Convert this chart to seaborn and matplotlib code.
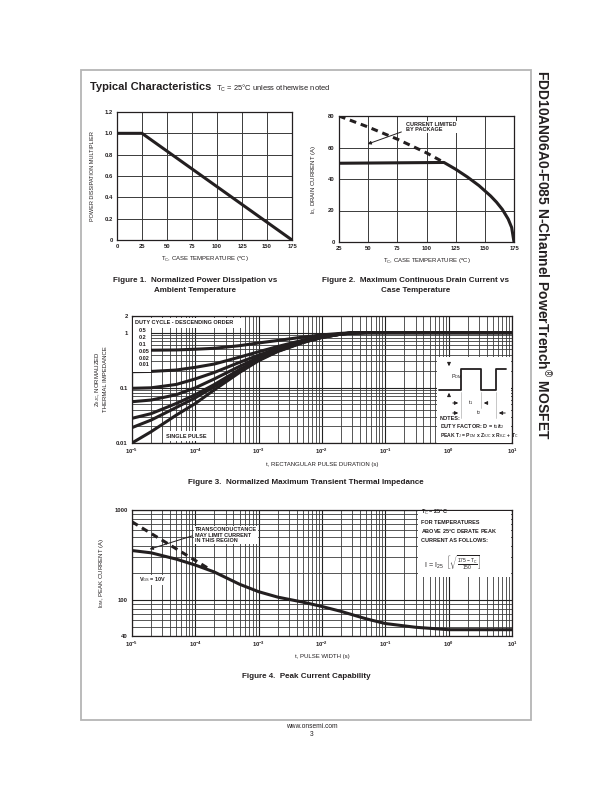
import numpy as np
import pandas as pd
import matplotlib
matplotlib.use("Agg")
import matplotlib.pyplot as plt
import seaborn as sns
from matplotlib.patches import Rectangle
from matplotlib.ticker import FixedLocator, NullFormatter, LogLocator

# figure 1 - power dissipation multiplier
pd_temp = [0, 25, 175]
pd_mult = [1.0, 1.0, 0.0]

# figure 2 - drain current vs case temperature
id_temp = [25, 115, 125, 135, 145, 155, 160, 165, 170, 173, 175]
id_curr = [50, 50.5, 46.2, 41.3, 35.8, 29.2, 25.3, 20.7, 14.6, 9.2, 0]
id_si_temp = [25, 50, 75, 100, 115]
id_si_curr = [80, 73, 65.3, 56.6, 50.5]

# figure 3 - transient thermal impedance
zth_t = [1e-5, 2e-5, 5e-5, 1e-4, 2e-4, 5e-4, 1e-3, 2e-3, 5e-3, 1e-2, 2e-2, 3e-2, 5e-2, 1e-1, 1, 10]
zth_d05 = [0.48, 0.48, 0.485, 0.50, 0.52, 0.58, 0.65, 0.72, 0.83, 0.91, 0.97, 0.99, 1.0, 1.0, 1.0, 1.0]
zth_d02 = [0.196, 0.198, 0.21, 0.235, 0.27, 0.36, 0.45, 0.56, 0.73, 0.86, 0.95, 0.99, 1.0, 1.0, 1.0, 1.0]
zth_d01 = [0.098, 0.10, 0.115, 0.145, 0.19, 0.29, 0.39, 0.52, 0.70, 0.84, 0.95, 0.99, 1.0, 1.0, 1.0, 1.0]
zth_d005 = [0.056, 0.06, 0.075, 0.10, 0.145, 0.245, 0.355, 0.49, 0.68, 0.83, 0.94, 0.985, 1.0, 1.0, 1.0, 1.0]
zth_d002 = [0.028, 0.034, 0.052, 0.075, 0.115, 0.215, 0.33, 0.47, 0.67, 0.82, 0.94, 0.985, 1.0, 1.0, 1.0, 1.0]
zth_d001 = [0.019, 0.026, 0.044, 0.066, 0.105, 0.205, 0.32, 0.46, 0.665, 0.82, 0.94, 0.985, 1.0, 1.0, 1.0, 1.0]
zth_single = [0.010, 0.016, 0.032, 0.052, 0.092, 0.19, 0.31, 0.455, 0.66, 0.82, 0.94, 0.985, 1.0, 1.0, 1.0, 1.0]
duty_labels = ["0.5", "0.2", "0.1", "0.05", "0.02", "0.01"]

# figure 4 - peak current capability
ipk_t = [1e-5, 2e-5, 5e-5, 1e-4, 2e-4, 5e-4, 1e-3, 2e-3, 5e-3, 1e-2, 2e-2, 5e-2, 1e-1, 3e-1, 1, 10]
ipk = [355, 335, 285, 245, 205, 150, 124, 108, 95, 85, 75, 62, 55, 50, 47, 47]
gm_t = [1e-5, 1.6e-4]
gm_i = [740, 225]

W, H = 612, 792
INK = "#231f20"

sns.set_style("white")
plt.rcParams["font.family"] = ["Liberation Sans", "DejaVu Sans"]
plt.rcParams["mathtext.fontset"] = "custom"
plt.rcParams["mathtext.rm"] = "Liberation Sans"
plt.rcParams["mathtext.it"] = "Liberation Sans"
plt.rcParams["mathtext.bf"] = "Liberation Sans:bold"

fig = plt.figure(figsize=(W / 100, H / 100), dpi=100)


def box(x0, y0, x1, y1):
    # pixel box (top-left origin) -> figure fraction rect
    return [x0 / W, 1 - y1 / H, (x1 - x0) / W, (y1 - y0) / H]


def style_axes(ax):
    for s in ax.spines.values():
        s.set_color(INK)
        s.set_linewidth(0.9)
    ax.tick_params(which="both", length=0, pad=3, labelsize=4.2, colors=INK)
    for lab in ax.get_xticklabels() + ax.get_yticklabels():
        lab.set_fontweight("bold")


# ---- figure 1
ax1 = fig.add_axes(box(117, 112, 292, 240))
sns.lineplot(x=pd_temp, y=pd_mult, ax=ax1, color=INK, lw=2.2, sort=False)
ax1.set_xlim(0, 175)
ax1.set_ylim(0, 1.2)
ax1.set_xticks(np.arange(0, 176, 25))
ax1.set_yticks(np.arange(0, 1.21, 0.2))
ax1.set_yticklabels(["0", "0.2", "0.4", "0.6", "0.8", "1.0", "1.2"])
ax1.grid(True, color="#3a3a3a", lw=0.7)
ax1.set_xlabel(r"T$_C$, CASE TEMPERATURE ($^o$C)", fontsize=4.3, labelpad=4, color=INK)
ax1.set_ylabel("POWER DISSIPATION MULTIPLIER", fontsize=4.0, labelpad=7, color=INK)
style_axes(ax1)

# ---- figure 2
ax2 = fig.add_axes(box(339, 116, 514, 242))
sns.lineplot(x=id_si_temp, y=id_si_curr, ax=ax2, color=INK, lw=2.2, linestyle=(0, (2.2, 1.6)))
sns.lineplot(x=id_temp, y=id_curr, ax=ax2, color=INK, lw=2.2, sort=False)
ax2.set_xlim(25, 175)
ax2.set_ylim(0, 80)
ax2.set_xticks(np.arange(25, 176, 25))
ax2.set_yticks(np.arange(0, 81, 20))
ax2.grid(True, color="#3a3a3a", lw=0.7)
ax2.set_xlabel(r"T$_C$, CASE TEMPERATURE ($^o$C)", fontsize=4.3, labelpad=4, color=INK)
ax2.set_ylabel(r"I$_D$, DRAIN CURRENT (A)", fontsize=4.3, labelpad=7, color=INK)
style_axes(ax2)

# ---- figure 3
ax3 = fig.add_axes(box(132, 316, 512, 443))
zth_df = pd.DataFrame({"t": zth_t * 7,
                       "z": zth_d05 + zth_d02 + zth_d01 + zth_d005 + zth_d002 + zth_d001 + zth_single,
                       "duty": sum([[d] * len(zth_t) for d in duty_labels + ["single"]], [])})
sns.lineplot(data=zth_df, x="t", y="z", hue="duty", palette=[INK] * 7, lw=2.2,
             ax=ax3, legend=False, zorder=3)
ax3.set_xscale("log")
ax3.set_yscale("log")
ax3.set_xlim(1e-5, 10)
ax3.set_ylim(0.01, 2)
ax3.set_yticks([0.01, 0.1, 1, 2])
ax3.set_yticklabels(["0.01", "0.1", "1", "2"])
ax3.yaxis.set_minor_locator(LogLocator(base=10, subs=np.arange(2, 10)))
ax3.yaxis.set_minor_formatter(NullFormatter())
ax3.xaxis.set_major_locator(LogLocator(base=10, numticks=10))
ax3.xaxis.set_minor_locator(LogLocator(base=10, subs=np.arange(2, 10), numticks=20))
ax3.grid(True, which="major", color="#222222", lw=0.8)
ax3.grid(True, which="minor", color="#3a3a3a", lw=0.6)
ax3.set_xlabel("t, RECTANGULAR PULSE DURATION (s)", fontsize=4.3, labelpad=4, color=INK)
ax3.set_ylabel("Z$_{\\theta JC}$, NORMALIZED\nTHERMAL IMPEDANCE", fontsize=4.3, labelpad=6, color=INK)
style_axes(ax3)

# ---- figure 4
ax4 = fig.add_axes(box(132, 510, 512, 636))
sns.lineplot(x=gm_t, y=gm_i, ax=ax4, color=INK, lw=2.2, linestyle=(0, (2.2, 1.6)))
sns.lineplot(x=ipk_t, y=ipk, ax=ax4, color=INK, lw=2.2)
ax4.set_xscale("log")
ax4.set_yscale("log")
ax4.set_xlim(1e-5, 10)
ax4.set_ylim(40, 1000)
ax4.set_yticks([40, 100, 1000])
ax4.set_yticklabels(["40", "100", "1000"])
ax4.yaxis.set_minor_locator(FixedLocator([50, 60, 70, 80, 90, 200, 300, 400, 500, 600, 700, 800, 900]))
ax4.yaxis.set_minor_formatter(NullFormatter())
ax4.xaxis.set_major_locator(LogLocator(base=10, numticks=10))
ax4.xaxis.set_minor_locator(LogLocator(base=10, subs=np.arange(2, 10), numticks=20))
ax4.grid(True, which="major", color="#222222", lw=0.8)
ax4.grid(True, which="minor", color="#3a3a3a", lw=0.6)
ax4.set_xlabel("t, PULSE WIDTH (s)", fontsize=4.3, labelpad=3, color=INK)
ax4.set_ylabel(r"I$_{DM}$, PEAK CURRENT (A)", fontsize=4.3, labelpad=6, color=INK)
style_axes(ax4)

# ---- page overlay (pixel coordinates, y down)
ov = fig.add_axes([0, 0, 1, 1], zorder=10)
ov.set_xlim(0, W)
ov.set_ylim(H, 0)
ov.axis("off")
ov.patch.set_alpha(0)

ov.add_patch(Rectangle((81, 70), 450, 650, fill=False, ec="#b5b5b5", lw=1.3))
ov.text(90, 87, "Typical Characteristics", fontsize=8, fontweight="bold", color=INK, va="center")
ov.text(216, 88, r"T$_C$ = 25°C unless otherwise noted", fontsize=5.4, color=INK, va="center")
ov.text(543, 70, "FDD10AN06A0-F085 N-Channel PowerTrench$^{®}$ MOSFET", fontsize=10.0,
        fontweight="bold", color=INK, rotation=270, ha="center", va="top")

cap = dict(fontsize=5.8, fontweight="bold", color=INK, ha="center", va="center")
ov.text(195, 281, "Figure 1.  Normalized Power Dissipation vs", **cap)
ov.text(195, 291, "Ambient Temperature", **cap)
ov.text(416, 281, "Figure 2.  Maximum Continuous Drain Current vs", **cap)
ov.text(416, 291, "Case Temperature", **cap)
ov.text(306, 483, "Figure 3.  Normalized Maximum Transient Thermal Impedance", **cap)
ov.text(306, 676, "Figure 4.  Peak Current Capability", **cap)
ov.text(312, 726, "www.onsemi.com", fontsize=4.8, color=INK, ha="center", va="center")
ov.text(312, 735, "3", fontsize=4.8, color=INK, ha="center", va="center")

small = dict(fontsize=4.0, fontweight="bold", color=INK)
arrow = dict(arrowstyle="-|>", color=INK, lw=0.7, mutation_scale=5)

# fig 2 note
ov.text(406, 122, "CURRENT LIMITED\nBY PACKAGE", va="top", linespacing=1.0,
        bbox=dict(fc="white", ec="none", pad=0.6), **small)
ov.annotate("", xy=(365, 145), xytext=(404, 131), arrowprops=arrow)

# fig 3 duty cycle list
ov.add_patch(Rectangle((133, 318), 108, 10, fc="white", ec="none"))
ov.add_patch(Rectangle((133, 328), 18, 44, fc="white", ec="none"))
ov.text(135, 323, "DUTY CYCLE - DESCENDING ORDER", va="center", **small)
for i, d in enumerate(duty_labels):
    ov.text(139, 331 + i * 6.8, d, va="center", **small)
ov.add_patch(Rectangle((163, 431), 50, 10, fc="white", ec="none"))
ov.text(166, 436, "SINGLE PULSE", va="center", **small)

# fig 3 notes box with pulse sketch
ov.add_patch(Rectangle((437, 357), 74, 85.5, fc="white", ec="none"))
ov.plot([439, 461, 461, 481, 481, 496, 496, 506], [390, 390, 369, 369, 390, 390, 369, 369],
        color=INK, lw=1.3)
for xv, y1 in [(461, 418), (481, 408), (496, 418)]:
    ov.plot([xv, xv], [392, y1], color="#b0b0b0", lw=0.5)
ov.annotate("", xy=(449, 369), xytext=(449, 360), arrowprops=arrow)
ov.annotate("", xy=(449, 390), xytext=(449, 399), arrowprops=arrow)
ov.text(451, 377, r"P$_{DM}$", fontsize=4.0, color=INK, va="center")
ov.annotate("", xy=(461, 403), xytext=(450, 403), arrowprops=arrow)
ov.annotate("", xy=(481, 403), xytext=(490, 403), arrowprops=arrow)
ov.text(471, 403, r"t$_1$", fontsize=4.0, color=INK, va="center", ha="center")
ov.annotate("", xy=(461, 413), xytext=(450, 413), arrowprops=arrow)
ov.annotate("", xy=(496, 413), xytext=(508, 413), arrowprops=arrow)
ov.text(479, 413, r"t$_2$", fontsize=4.0, color=INK, va="center", ha="center")
ov.text(440, 418, "NOTES:", va="center", **small)
ov.text(440, 427, r"DUTY FACTOR: D = t$_1$/t$_2$", va="center", **small)
ov.text(440, 436, r"PEAK T$_J$ = P$_{DM}$ x Z$_{\theta JC}$ x R$_{\theta JC}$ + T$_C$", va="center",
        fontsize=3.6, fontweight="bold", color=INK)

# fig 4 notes
ov.text(195, 527, "TRANSCONDUCTANCE\nMAY LIMIT CURRENT\nIN THIS REGION", va="top", linespacing=1.15,
        bbox=dict(fc="white", ec="none", pad=0.6), **small)
ov.annotate("", xy=(147, 550), xytext=(195, 535), arrowprops=arrow)
ov.text(139, 580, r"V$_{GS}$ = 10V", va="center", bbox=dict(fc="white", ec="none", pad=0.6), **small)
ov.add_patch(Rectangle((418, 511), 93, 66, fc="white", ec="none"))
ov.text(421, 512, r"T$_C$ = 25$^o$C", va="center", **small)
ov.text(421, 522, "FOR TEMPERATURES", va="center", **small)
ov.text(421, 532, r"ABOVE 25$^o$C DERATE PEAK", va="center", **small)
ov.text(421, 541, "CURRENT AS FOLLOWS:", va="center", **small)
ov.text(424, 563, r"I = I$_{25}$  $\left[\sqrt{\frac{175 - T_C}{150}}\right]$", fontsize=5.2,
        color=INK, va="center")

fig.savefig("out.png", dpi=100)
